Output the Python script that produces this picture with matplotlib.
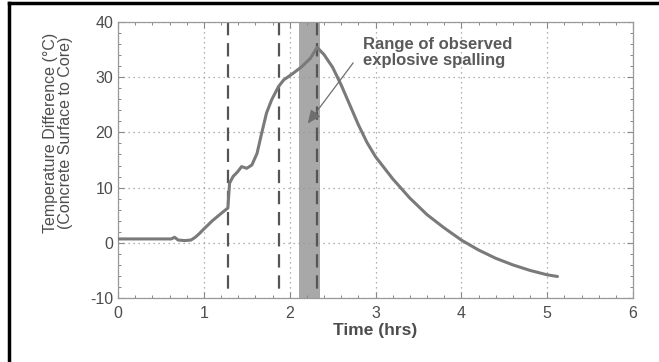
import matplotlib
matplotlib.use("Agg")
import matplotlib.pyplot as plt
from matplotlib.ticker import MultipleLocator
from matplotlib.lines import Line2D

plt.rcParams['font.family'] = ['Liberation Sans', 'DejaVu Sans']
plt.rcParams['axes.unicode_minus'] = False

time_hrs = [0.0, 0.3, 0.62, 0.66, 0.7, 0.78, 0.85, 0.9, 0.95, 1.0, 1.1, 1.2,
            1.28, 1.30, 1.34, 1.39, 1.44, 1.50, 1.56, 1.62, 1.67, 1.73, 1.79,
            1.87, 1.93, 2.04, 2.14, 2.24, 2.32, 2.4, 2.5, 2.6, 2.7, 2.8, 2.9, 3.0,
            3.2, 3.4, 3.6, 3.8, 4.0, 4.2, 4.4, 4.6, 4.8, 5.0, 5.12]
temp_diff = [0.7, 0.7, 0.7, 1.0, 0.5, 0.4, 0.5, 1.0, 1.7, 2.5, 4.0, 5.3,
             6.3, 10.8, 12.0, 12.8, 13.8, 13.5, 14.1, 16.2, 19.6, 23.5, 25.9,
             28.3, 29.5, 30.7, 31.9, 33.4, 35.4, 34.1, 31.8, 28.6, 25.0, 21.4, 18.2, 15.6,
             11.6, 8.1, 5.1, 2.7, 0.5, -1.3, -2.8, -4.0, -5.0, -5.8, -6.1]

dashed_x = [1.28, 1.88, 2.32]
spall_range = [2.11, 2.35]
arrow_text = "Range of observed\nexplosive spalling"
arrow_tail = (2.74, 32.6)
arrow_head = (2.21, 21.6)

txt = '#4d4d4d'
fig = plt.figure(figsize=(6.59, 3.62), dpi=100)
ax = fig.add_axes([118/659, 1-298/362, (633-118)/659, (298-22)/362])

ax.axvspan(spall_range[0], spall_range[1], color='#a8a8a8', lw=0, zorder=1)
for xv in dashed_x:
    ax.plot([xv, xv], [40, -8.6], color='#555555', lw=1.6, dashes=(6, 3.5), zorder=2)
ax.plot(time_hrs, temp_diff, color='#7a7a7a', lw=2.2, solid_capstyle='round',
        solid_joinstyle='round', zorder=3)

ax.annotate('', xy=arrow_head, xytext=arrow_tail,
            arrowprops=dict(arrowstyle='-|>,head_length=0.8,head_width=0.35',
                            color='#6e6e6e', lw=0.9, shrinkA=0, shrinkB=0), zorder=4)
ax.text(2.86, 37.3, arrow_text, fontsize=12, fontweight='bold', color='#5a5a5a',
        ha='left', va='top', linespacing=1.1)

ax.set_xlim(0, 6)
ax.set_ylim(-10, 40)
ax.xaxis.set_major_locator(MultipleLocator(1))
ax.xaxis.set_minor_locator(MultipleLocator(0.2))
ax.yaxis.set_major_locator(MultipleLocator(10))
ax.yaxis.set_minor_locator(MultipleLocator(2))
ax.tick_params(which='both', direction='in', top=True, right=True, colors='#888888',
               labelcolor=txt, labelsize=11.5)
ax.tick_params(which='major', length=4, width=0.8)
ax.tick_params(which='minor', length=2.5, width=0.7)
ax.tick_params(axis='x', pad=6)
ax.grid(True, which='major', ls=(0, (1, 3)), color='#999999', lw=0.9)
for s in ax.spines.values():
    s.set_color('#999999')
    s.set_linewidth(0.9)

ax.set_xlabel('Time (hrs)', fontsize=12.5, fontweight='bold', color=txt, labelpad=1)
ax.set_ylabel('Temperature Difference (\u00b0C)\n(Concrete Surface to Core)', fontsize=11.5,
              color=txt, labelpad=7, linespacing=1.0)
ax.yaxis.set_label_coords(-0.087, 0.60)

# figure border lines (top and left)
fig.add_artist(Line2D([9/659, 1], [1-2.5/362, 1-2.5/362], color='black', lw=2.5,
                      transform=fig.transFigure))
fig.add_artist(Line2D([9/659, 9/659], [0, 1-2.5/362], color='black', lw=2.5,
                      transform=fig.transFigure))

fig.savefig('out.png', dpi=100)
